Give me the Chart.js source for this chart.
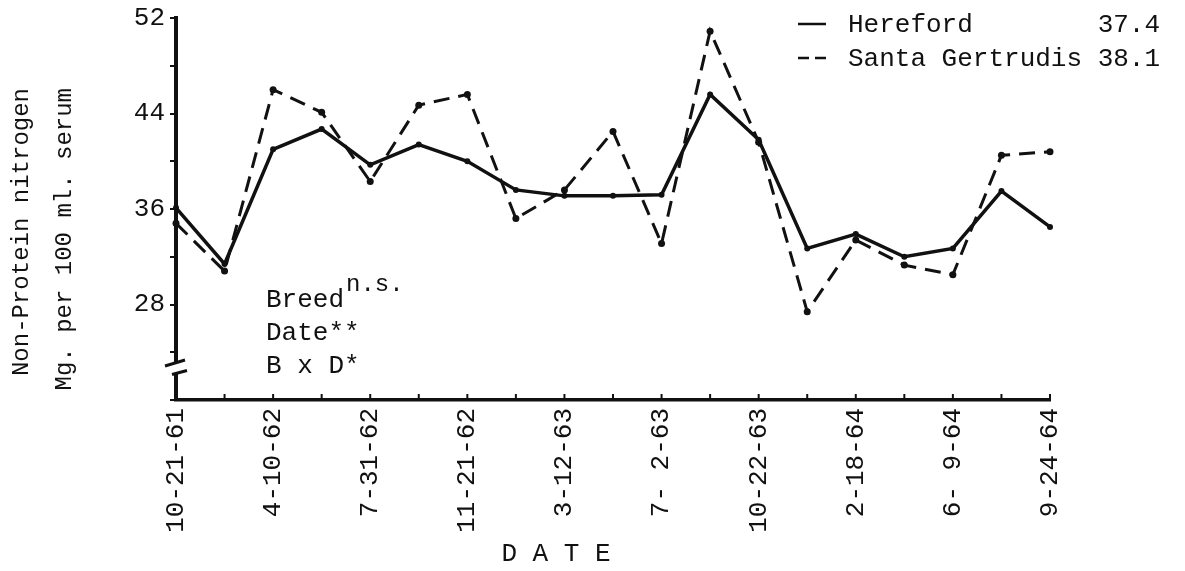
<!DOCTYPE html>
<html>
<head>
<meta charset="utf-8">
<script src="https://cdn.jsdelivr.net/npm/chart.js@4/dist/chart.umd.min.js"></script>
<style>
  html, body { margin: 0; padding: 0; background: #fff; }
  #wrap { width: 1185px; height: 571px; }
</style>
</head>
<body>
<div id="wrap"><canvas id="npnChart"></canvas></div>
<script>
// sampling dates (every other one is labelled)
const dateTicks = ['10-21-61', '', '4-10-62', '', '7-31-62', '', '11-21-62', '', '3-12-63', '',
  '7- 2-63', '', '10-22-63', '', '2-18-64', '', '6- 9-64', '', '9-24-64'];
const hereford = [36.1, 31.4, 41.0, 42.7, 39.7, 41.4, 40.0, 37.6, 37.1, 37.1, 37.2, 45.6, 41.8, 32.7, 33.9, 32.0, 32.7, 37.5, 34.5];
const santaGertrudis = [34.8, 30.8, 46.0, 44.1, 38.3, 44.7, 45.6, 35.2, 37.6, 42.5, 33.1, 50.9, 41.6, 27.4, 33.4, 31.3, 30.5, 40.5, 40.8];
const breedNames = ['Hereford', 'Santa Gertrudis'];
const breedMeans = ['37.4', '38.1'];
const yLabelled = [28, 36, 44, 52];
const notes = [['Breed', 'n.s.'], ['Date**', ''], ['B x D*', '']];

const INK = '#111';
const FONT = '"Liberation Mono", "DejaVu Sans Mono", monospace';

// axis break, inward x ticks, axis titles, legend, ANOVA notes
const extras = {
  id: 'extras',
  afterDraw(chart) {
    const { ctx, chartArea } = chart;
    const xs = chart.scales.x, ys = chart.scales.y;
    ctx.save();
    ctx.strokeStyle = INK;
    ctx.fillStyle = INK;

    // x ticks pointing up
    ctx.lineWidth = 2;
    for (let i = 0; i < dateTicks.length; i++) {
      const px = xs.getPixelForValue(i);
      ctx.beginPath();
      ctx.moveTo(px, chartArea.bottom);
      ctx.lineTo(px, chartArea.bottom - 6);
      ctx.stroke();
    }

    // broken y axis
    const ax = chartArea.left;
    const yTop = ys.getPixelForValue(23.1), yBot = ys.getPixelForValue(22.3);
    ctx.clearRect(ax - 4, yTop, 8, yBot - yTop);
    ctx.lineWidth = 3;
    ctx.beginPath();
    ctx.moveTo(ax - 11, yTop + 3); ctx.lineTo(ax + 9, yTop - 3);
    ctx.moveTo(ax - 4, yBot + 2); ctx.lineTo(ax + 11, yBot - 2);
    ctx.stroke();

    // y title (two rotated lines)
    ctx.font = '24px ' + FONT;
    ctx.textBaseline = 'middle';
    ctx.textAlign = 'right';
    [['Non-Protein nitrogen', 22], ['Mg. per 100 ml. serum', 65]].forEach(([t, x]) => {
      ctx.save();
      ctx.translate(x, 88);
      ctx.rotate(-Math.PI / 2);
      ctx.fillText(t, 0, 0);
      ctx.restore();
    });

    // x title
    ctx.font = '26px ' + FONT;
    ctx.textAlign = 'center';
    ctx.fillText('D A T E', 556, 554);

    // legend
    ctx.textAlign = 'left';
    chart.data.datasets.forEach((ds, i) => {
      const y = 24 + i * 34;
      ctx.lineWidth = 2.5;
      ctx.setLineDash(i === 1 ? [11, 6] : []);
      ctx.beginPath();
      ctx.moveTo(798, y);
      ctx.lineTo(826, y);
      ctx.stroke();
      ctx.setLineDash([]);
      ctx.fillText(ds.label.padEnd(16, ' ') + breedMeans[i], 848, y + 1);
    });

    // notes
    notes.forEach(([t, sup], i) => {
      const y = 300 + i * 33;
      ctx.font = '26px ' + FONT;
      ctx.fillText(t, 266, y);
      if (sup) {
        const w = ctx.measureText(t).width;
        ctx.font = '24px ' + FONT;
        ctx.fillText(sup, 266 + w + 2, y - 15);
      }
    });
    ctx.restore();
  }
};

new Chart(document.getElementById('npnChart'), {
  type: 'line',
  data: {
    labels: dateTicks,
    datasets: [{
      label: breedNames[0],
      data: hereford,
      borderColor: INK,
      backgroundColor: INK,
      borderWidth: 3.5,
      pointRadius: 3,
      pointBorderWidth: 0,
      tension: 0
    }, {
      label: breedNames[1],
      data: santaGertrudis,
      borderColor: INK,
      backgroundColor: INK,
      borderWidth: 3,
      borderDash: [16, 9],
      pointRadius: 3.5,
      pointBorderWidth: 0,
      tension: 0
    }]
  },
  options: {
    responsive: true,
    maintainAspectRatio: false,
    animation: false,
    layout: { padding: { left: 0, top: 15, right: 135, bottom: 0 } },
    plugins: {
      legend: { display: false },
      tooltip: { enabled: false }
    },
    scales: {
      x: {
        type: 'category',
        offset: false,
        grid: { display: false, drawTicks: false },
        border: { display: true, color: INK, width: 3.5 },
        ticks: {
          autoSkip: false,
          minRotation: 90,
          maxRotation: 90,
          padding: 8,
          color: INK,
          font: { family: FONT, size: 26, lineHeight: 1 }
        },
        afterFit(scale) { scale.height = 171; }
      },
      y: {
        min: 20,
        max: 52,
        grid: { drawOnChartArea: false, drawTicks: true, tickLength: 6, color: INK, lineWidth: 2 },
        border: { display: true, color: INK, width: 4 },
        ticks: {
          stepSize: 4,
          padding: 5,
          color: INK,
          font: { family: FONT, size: 26, lineHeight: 1 },
          callback: v => (yLabelled.includes(v) ? String(v) : '')
        },
        afterFit(scale) { scale.width = 176; }
      }
    }
  },
  plugins: [extras]
});
</script>
</body>
</html>
